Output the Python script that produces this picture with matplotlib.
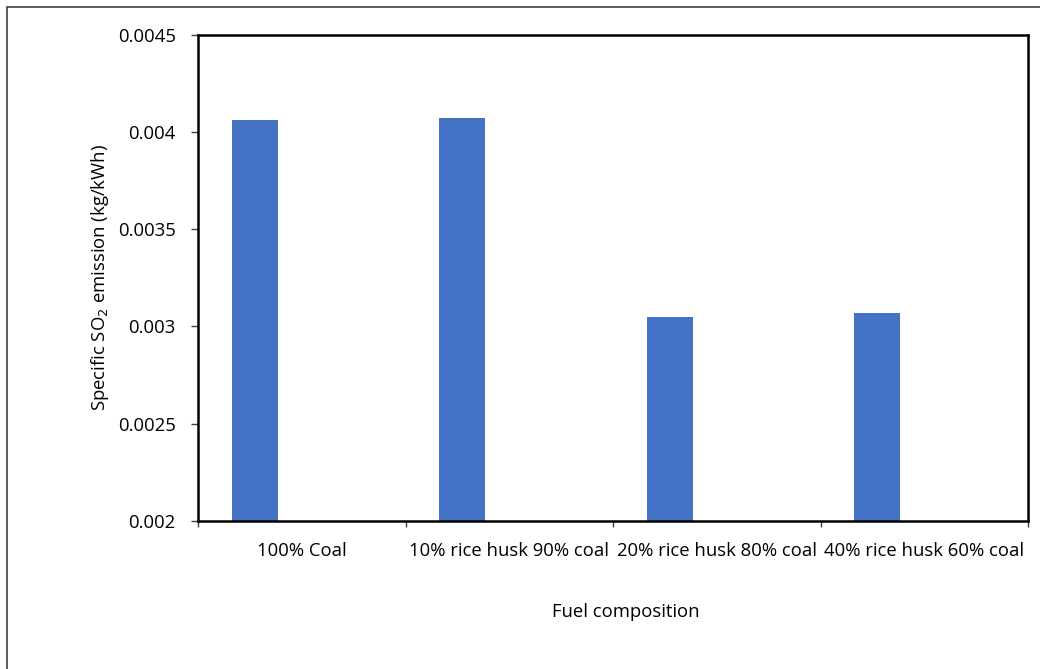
import matplotlib
matplotlib.use("Agg")
import matplotlib.pyplot as plt
import numpy as np
from matplotlib.patches import Rectangle

categories = ["100% Coal", "10% rice husk 90% coal", "20% rice husk 80% coal", "40% rice husk 60% coal"]
so2 = [0.00406, 0.00407, 0.00305, 0.00307]
yticks = [0.002, 0.0025, 0.003, 0.0035, 0.004, 0.0045]
ytick_labels = ["0.002", "0.0025", "0.003", "0.0035", "0.004", "0.0045"]

plt.rcParams["font.family"] = ["Open Sans", "DejaVu Sans"]
FS = 13.3

fig = plt.figure(figsize=(10.4, 6.69), dpi=100)
ax = fig.add_axes([198 / 1040, 1 - 521 / 669, 830 / 1040, 486.5 / 669])

# outer chart-area frame
fig.patches.append(Rectangle((7 / 1040, -0.05), 1.1, 1 - 7 / 669 + 0.05,
                             transform=fig.transFigure, fill=False,
                             edgecolor="#404040", linewidth=1.2))

x = np.arange(len(categories))
ax.bar(x - 0.227, so2, 0.223, color="#4472C4", zorder=2)

ax.set_xlim(-0.5, len(categories) - 0.5)
ax.set_ylim(0.002, 0.0045)
ax.set_yticks(yticks)
ax.set_yticklabels(ytick_labels, fontsize=FS)

ax.set_xticks(np.arange(len(categories) + 1) - 0.5)
ax.set_xticklabels([])
ax.set_xticks(x, minor=True)
ax.set_xticklabels(categories, minor=True, fontsize=FS)
ax.tick_params(axis="x", which="minor", length=0, pad=15)
ax.tick_params(axis="x", which="major", length=4.5, width=1, color="#404040")
ax.tick_params(axis="y", length=5, width=1, color="#404040", pad=11)

for s in ax.spines.values():
    s.set_linewidth(1.8)
    s.set_color("black")

ax.set_xlabel("Fuel composition", fontsize=FS, va="center")
ax.xaxis.set_label_coords((626 - 198) / 830, (521 - 612) / 486.5)
ax.set_ylabel("Specific SO$_2$ emission (kg/kWh)", fontsize=FS, va="center")
ax.yaxis.set_label_coords((100 - 198) / 830, 0.5)

fig.savefig("out.png", dpi=100)
